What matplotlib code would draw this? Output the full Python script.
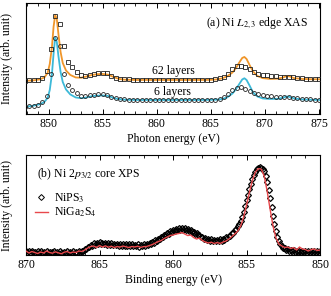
import numpy as np
import matplotlib
matplotlib.use("Agg")
import matplotlib.pyplot as plt
from matplotlib.ticker import MultipleLocator

plt.rcParams['font.family'] = ['Liberation Serif', 'DejaVu Serif']
plt.rcParams['mathtext.fontset'] = 'stix'
plt.rcParams['font.size'] = 8.5

# ---- (a) Ni L2,3 XAS ----
l62_data = [33.0, 33.2, 33.5, 33.8, 34.3, 36.0, 43.0, 65.0, 98.0, 90.0,
            68.0, 52.3, 46.5, 42.0, 38.5, 38.0, 39.0, 40.3, 40.7, 41.2,
            40.5, 38.0, 36.3, 35.3, 34.8, 34.5, 34.3, 34.2, 34.3, 34.2,
            34.1, 34.2, 34.3, 34.2, 34.1, 34.2, 34.3, 34.2, 34.1, 34.2,
            34.3, 34.2, 34.2, 34.3, 34.3, 34.6, 35.5, 37.0, 40.0, 44.5,
            47.5, 48.2, 47.0, 44.5, 42.0, 40.3, 39.2, 38.5, 38.0, 37.5,
            37.3, 37.4, 37.2, 36.5, 36.0, 35.7, 35.4, 35.2, 35.0, 34.8]
l6_data = [6.5, 7.0, 7.5, 8.2, 9.3, 11.5, 17.5, 40.0, 76.0, 68.0,
           40.0, 28.5, 24.0, 20.8, 18.3, 17.5, 18.5, 19.3, 19.5, 19.8,
           19.0, 16.8, 15.5, 14.8, 14.5, 14.3, 14.2, 14.1, 14.2, 14.1,
           14.0, 14.1, 14.2, 14.1, 14.0, 14.1, 14.0, 14.1, 14.0, 14.1,
           14.0, 14.1, 14.0, 14.0, 14.1, 14.3, 15.0, 16.5, 19.5, 23.5,
           26.2, 26.5, 25.3, 23.0, 21.0, 19.8, 18.8, 18.0, 17.5, 17.0,
           16.8, 16.8, 16.6, 16.0, 15.5, 15.2, 14.9, 14.6, 14.4, 14.2]
xas_e = np.linspace(847.4, 875.0, len(l62_data))   # 0.4 eV step

sim_e = [847.4, 848.0, 848.6, 849.2, 849.6, 849.9, 850.1, 850.3, 850.45, 850.6,
         850.75, 850.9, 851.1, 851.3, 851.6, 852.0, 852.5, 853.0, 853.5, 854.0,
         854.5, 855.0, 855.5, 856.0, 856.5, 857.0, 858.0, 860.0, 862.0, 864.0,
         865.0, 865.5, 866.0, 866.5, 867.0, 867.3, 867.6, 867.9, 868.1, 868.3,
         868.6, 868.9, 869.3, 869.8, 870.5, 871.2, 871.7, 872.0, 872.3, 872.7,
         873.5, 874.3, 875.0]
l62_sim = [33.0, 33.2, 33.6, 34.6, 36.5, 41.0, 50.0, 67.0, 87.0, 99.0,
           95.0, 80.0, 62.0, 51.0, 43.5, 39.0, 36.5, 36.2, 37.5, 39.0,
           39.8, 40.0, 39.3, 37.0, 35.0, 34.3, 34.0, 34.0, 34.0, 34.0,
           34.1, 34.5, 35.5, 37.5, 41.5, 45.5, 51.0, 56.0, 57.0, 55.0,
           48.5, 42.5, 38.0, 35.8, 35.0, 35.3, 36.5, 38.0, 37.5, 35.8,
           35.0, 34.7, 34.7]
l6_sim = [6.5, 7.3, 8.3, 9.8, 12.0, 16.0, 24.0, 40.0, 60.0, 76.5,
          72.0, 58.0, 42.0, 32.0, 24.5, 19.5, 16.5, 15.8, 16.5, 17.8,
          18.3, 18.5, 18.0, 16.0, 14.8, 14.3, 14.0, 14.0, 14.0, 14.0,
          14.1, 14.3, 14.8, 16.5, 20.5, 24.5, 29.5, 34.5, 35.7, 34.0,
          28.0, 21.5, 17.5, 15.5, 15.0, 15.2, 16.3, 17.5, 17.0, 15.5,
          14.5, 14.2, 14.0]

# ---- (b) Ni 2p3/2 XPS ----
nips3 = [4.2, 2.1, 3.6, 1.8, 4.5, 2.6, 3.3, 1.5, 3.9, 2.4,
         4.0, 2.2, 3.1, 1.6, 3.7, 2.0, 3.4, 1.4, 2.9, 3.8,
         1.9, 3.2, 1.5, 3.6, 2.3, 1.7, 3.4, 2.0, 3.8, 2.2,
         3.0, 1.8, 3.9, 2.5, 3.3, 2.4, 4.1, 3.0,
         4.2, 3.8, 5.6, 5.8, 7.9, 8.0, 10.2, 9.4, 11.6, 10.5,
         12.4, 10.9, 12.8, 11.0, 12.5, 10.6, 12.2, 10.3, 11.9, 10.1,
         11.8, 9.9, 11.5, 9.6, 11.4, 9.4, 11.0, 9.3, 11.2, 9.0,
         10.8, 8.9, 10.6, 8.8, 10.8, 8.6, 10.4, 8.7, 10.6, 8.5,
         10.3, 8.8, 10.6, 9.1, 11.0, 9.8, 11.8, 10.9, 13.0, 12.4,
         14.6, 14.0, 16.4, 16.0, 18.4, 17.9, 20.4, 19.8, 22.2, 21.3,
         23.8, 22.6, 25.0, 23.9, 26.0, 24.6, 26.7, 25.0, 27.1, 25.3,
         26.9, 24.9, 26.3, 24.2, 25.1, 22.9, 23.5, 21.3, 21.8, 19.6,
         20.0, 17.9, 18.4, 16.5, 17.2, 15.3, 16.3, 14.4, 15.8, 13.9,
         15.5, 13.7, 15.5, 13.8, 15.8, 14.3, 16.5, 15.4, 17.8, 17.2,
         19.5, 19.2, 22.0, 22.4, 25.0, 26.0, 28.8, 31.0, 34.5, 38.5,
         43.0, 49.0, 55.0, 60.5, 66.0, 71.0, 76.0, 80.0, 83.5, 85.8,
         87.0, 88.0, 87.5, 86.2, 84.0, 79.5, 73.0, 65.5, 57.0, 48.0,
         39.0, 31.0, 24.0, 18.5, 14.0, 11.0, 9.0, 7.4, 6.8, 5.4,
         5.6, 4.3, 5.0, 3.6, 4.7, 3.2, 4.5, 2.9, 4.4, 2.8,
         4.3, 2.6, 4.1, 2.5, 4.0, 2.3, 3.9, 2.4, 4.0, 2.2,
         3.8, 2.1, 3.6]
nips3_e = np.linspace(870.0, 850.0, len(nips3))   # 0.1 eV step

niga2s4 = [4.0, 2.0, 3.5, 2.5, 1.5, 3.0, 2.0, 4.0, 2.5, 1.8,
           3.2, 2.2, 1.2, 2.8, 3.5, 2.0, 3.0, 2.5, 4.0, 3.5,
           5.0, 7.0, 8.5, 9.0, 7.5, 9.5, 8.0, 9.2, 7.8, 8.8,
           7.5, 8.5, 8.0, 9.0, 8.2, 7.5, 8.5, 8.0, 8.8, 7.6,
           8.4, 8.5, 9.5, 10.5, 12.0, 13.5, 14.5, 16.5, 18.0, 19.5,
           20.0, 21.0, 21.5, 22.5, 21.0, 19.5, 20.0, 17.5, 16.0, 17.0,
           14.5, 13.0, 12.0, 12.8, 11.5, 12.5, 11.5, 13.0, 14.0, 16.0,
           18.5, 21.0, 24.0, 29.0, 38.0, 50.0, 63.0, 75.0, 83.0, 86.5,
           86.0, 79.0, 64.0, 46.0, 29.0, 17.0, 11.0, 9.0, 7.5, 8.0,
           6.5, 7.5, 5.0, 8.0, 6.0, 5.5, 4.0, 5.5, 6.0, 4.5, 5.0]
niga2s4_e = np.linspace(870.0, 850.0, len(niga2s4))   # 0.2 eV step

orange = '#f0962a'
cyan = '#3cb9d8'
red = '#e8484c'

fig = plt.figure(figsize=(3.31, 2.96), dpi=100)
ax1 = fig.add_axes([0.0785, 0.615, 0.8885, 0.374])
ax2 = fig.add_axes([0.0785, 0.1385, 0.8885, 0.3375])

# top panel
ax1.plot(sim_e, l62_sim, color=orange, lw=1.3, zorder=2)
ax1.plot(sim_e, l6_sim, color=cyan, lw=1.3, zorder=2)
ax1.plot(xas_e, l62_data, ls='none', marker='s', ms=2.4, mfc='none',
         mec='#222222', mew=0.6, zorder=3)
ax1.plot(xas_e, l6_data, ls='none', marker='o', ms=2.8, mfc='none',
         mec='#222222', mew=0.6, zorder=3)
ax1.set_xlim(847.9, 875.1)
ax1.set_ylim(0, 110.7)
ax1.set_yticks([])
ax1.xaxis.set_major_locator(MultipleLocator(5))
ax1.xaxis.set_minor_locator(MultipleLocator(1))
ax1.set_xlabel('Photon energy (eV)', labelpad=2)
ax1.set_ylabel('Intensity (arb. unit)')
ax1.yaxis.set_label_coords(-0.045, 0.5)
ax1.text(0.959, 0.82, r'(a) Ni $L_{2,3}$ edge XAS', transform=ax1.transAxes,
         ha='right', va='center')
ax1.text(861.5, 43, '62 layers', ha='center', va='center')
ax1.text(861.4, 22, '6 layers', ha='center', va='center')

# bottom panel
ax2.plot(nips3_e, nips3, ls='none', marker='D', ms=3.0, mfc='none',
         mec='black', mew=0.9, zorder=2, label='NiPS$_3$')
ax2.plot(niga2s4_e, niga2s4, color=red, lw=1.0, zorder=3, label='NiGa$_2$S$_4$')
ax2.set_xlim(870, 850)
ax2.set_ylim(0, 100)
ax2.set_yticks([])
ax2.xaxis.set_major_locator(MultipleLocator(5))
ax2.xaxis.set_minor_locator(MultipleLocator(1))
ax2.set_xlabel('Binding energy (eV)', labelpad=2)
ax2.set_ylabel('Intensity (arb. unit)')
ax2.yaxis.set_label_coords(-0.045, 0.5)
ax2.text(0.037, 0.81, r'(b) Ni 2$p_{3/2}$ core XPS', transform=ax2.transAxes,
         ha='left', va='center')
leg = ax2.legend(loc='upper left', bbox_to_anchor=(0.03, 0.64), frameon=False,
                 handlelength=1.1, handletextpad=0.5, labelspacing=0.1,
                 borderpad=0, borderaxespad=0)
leg.legend_handles[0].set_markeredgewidth(0.7)

for ax in (ax1, ax2):
    ax.tick_params(axis='x', which='both', direction='in', top=True, pad=3)
    ax.tick_params(axis='x', which='major', length=3.5, width=0.7)
    ax.tick_params(axis='x', which='minor', length=2, width=0.6)
    for s in ax.spines.values():
        s.set_linewidth(0.8)

fig.savefig('out.png', dpi=100)
